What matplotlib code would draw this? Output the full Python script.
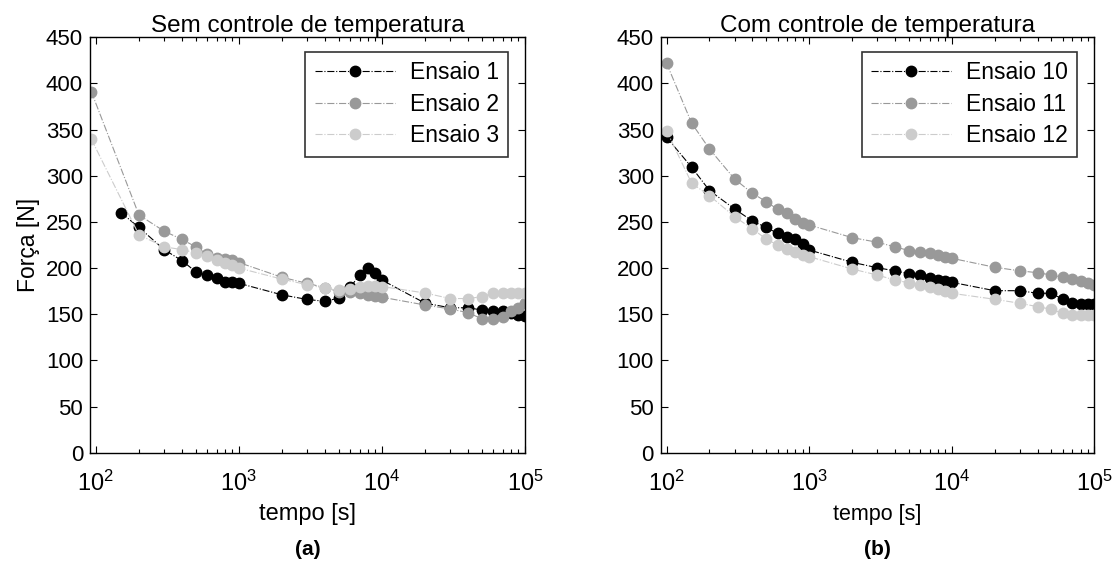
import matplotlib
matplotlib.use("Agg")
import matplotlib.pyplot as plt
from matplotlib.ticker import LogLocator, FixedLocator, NullFormatter

plt.rcParams['font.family'] = ['Liberation Sans', 'DejaVu Sans']
plt.rcParams['mathtext.fontset'] = 'custom'
plt.rcParams['mathtext.rm'] = 'Liberation Sans'
plt.rcParams['mathtext.it'] = 'Liberation Sans'

# ---------------- data (a) ----------------
t1 = [150, 200, 300, 400, 500, 600, 700, 800, 900, 1000, 2000, 3000, 4000, 5000,
      6000, 7000, 8000, 9000, 10000, 20000, 30000, 40000, 50000, 60000, 70000,
      80000, 90000, 100000]
f1 = [260, 244, 220, 208, 196, 192.5, 189, 185, 185, 183.5, 171, 166, 164, 167.5,
      179, 193, 200, 195, 187, 162, 157, 157, 154.6, 153, 153, 151, 149, 148]

t2 = [93, 200, 300, 400, 500, 600, 700, 800, 900, 1000, 2000, 3000, 4000, 5000,
      6000, 7000, 8000, 9000, 10000, 20000, 30000, 40000, 50000, 60000, 70000,
      80000, 90000, 100000]
f2 = [391, 257.5, 240, 231, 223, 215, 211, 210, 209, 206, 190, 183.5, 178.8, 174.4,
      174, 172.7, 171, 170, 168.4, 160, 155.7, 151.7, 145, 145, 146.7, 153.5, 157, 162]

t3 = [93, 200, 300, 400, 500, 600, 700, 800, 900, 1000, 2000, 3000, 4000, 5000,
      6000, 7000, 8000, 9000, 10000, 20000, 30000, 40000, 50000, 60000, 70000,
      80000, 90000, 100000]
f3 = [339.5, 236, 223, 220, 216.5, 213, 209, 206, 203, 200, 188, 182, 178, 176,
      177, 179, 181, 181, 180, 173, 167, 167, 169, 173, 173, 173, 173, 173]

# ---------------- data (b) ----------------
tb = [100, 150, 200, 300, 400, 500, 600, 700, 800, 900, 1000, 2000, 3000, 4000,
      5000, 6000, 7000, 8000, 9000, 10000, 20000, 30000, 40000, 50000, 60000,
      70000, 80000, 90000, 100000]
f10 = [341.7, 309.2, 284, 264, 251, 244, 237.7, 233.4, 231.5, 226, 219.6, 206.3,
       200.4, 197, 194, 192.5, 189, 187, 186, 184.6, 175.5, 175.5, 172.7, 172.7,
       166.2, 161.9, 161, 161, 161]
f11 = [422, 357, 329, 296.5, 281, 272, 263.7, 260, 253, 249, 246.7, 233, 228, 223,
       219, 217, 216, 214.4, 212, 210.6, 200.9, 197, 195, 192.5, 190, 188.7, 185.9,
       184, 181.7]
f12 = [348.9, 291.9, 278.5, 255.7, 242.4, 231.5, 225, 220.7, 217, 214.2, 212.4, 199,
       192.5, 187, 184, 182, 179, 177, 175.5, 172.7, 166.2, 161.9, 158.2, 155.4,
       151, 149, 149, 149, 149]

labels_a = ['Ensaio 1', 'Ensaio 2', 'Ensaio 3']
labels_b = ['Ensaio 10', 'Ensaio 11', 'Ensaio 12']
colors = ['#000000', '#999999', '#cccccc']
titles = ['Sem controle de temperatura', 'Com controle de temperatura']
yticks = [0, 50, 100, 150, 200, 250, 300, 350, 400, 450]
xticks = [1e2, 1e3, 1e4, 1e5]
xticklabels = ['$10^2$', '$10^3$', '$10^4$', '$10^5$']

fig = plt.figure(figsize=(11.17, 5.67), dpi=100)
axA = fig.add_axes([0.0806, 0.2016, 0.3894, 0.7326])
axB = fig.add_axes([0.5915, 0.2016, 0.3882, 0.7326])

series_a = [(t1, f1), (t2, f2), (t3, f3)]
series_b = [(tb, f10), (tb, f11), (tb, f12)]

for ax, series, labels, title in [(axA, series_a, labels_a, titles[0]),
                                  (axB, series_b, labels_b, titles[1])]:
    for (t, f), c, lab in zip(series, colors, labels):
        ax.plot(t, f, linestyle='-.', color=c, lw=0.8, marker='o', ms=7.5,
                mfc=c, mec=c, label=lab)
    ax.set_xscale('log')
    ax.set_xlim(91, 1.0e5)
    ax.set_ylim(0, 450)
    ax.set_yticks(yticks)
    ax.xaxis.set_major_locator(FixedLocator(xticks))
    ax.set_xticklabels(xticklabels)
    ax.xaxis.set_minor_locator(LogLocator(base=10, subs=range(2, 10)))
    ax.xaxis.set_minor_formatter(NullFormatter())
    ax.tick_params(which='both', direction='in', top=True, right=True,
                   labelsize=16, width=0.8)
    ax.tick_params(which='major', length=5)
    ax.tick_params(which='minor', length=3)
    ax.tick_params(axis='x', pad=13, labelsize=17)
    ax.tick_params(axis='y', pad=5)
    for s in ax.spines.values():
        s.set_linewidth(1.0)
    ax.set_title(title, fontsize=17.5, pad=3)
    leg = ax.legend(loc='upper right', fontsize=16.5, frameon=True, fancybox=False,
                    edgecolor='black', handlelength=3.5, borderpad=0.4,
                    labelspacing=0.37, handletextpad=0.65, borderaxespad=0.0,
                    bbox_to_anchor=(0.961, 0.964))
    leg.get_frame().set_linewidth(1.2)

axA.set_ylabel('Força [N]', fontsize=16.5, labelpad=4)
axA.set_xlabel('tempo [s]', fontsize=17, labelpad=5)
axB.set_xlabel('tempo [s]', fontsize=15.5, labelpad=6)

fig.text(0.2753, 0.03, '(a)', ha='center', va='center', fontsize=15, fontweight='bold')
fig.text(0.7856, 0.03, '(b)', ha='center', va='center', fontsize=15, fontweight='bold')

fig.savefig('out.png', dpi=100)
